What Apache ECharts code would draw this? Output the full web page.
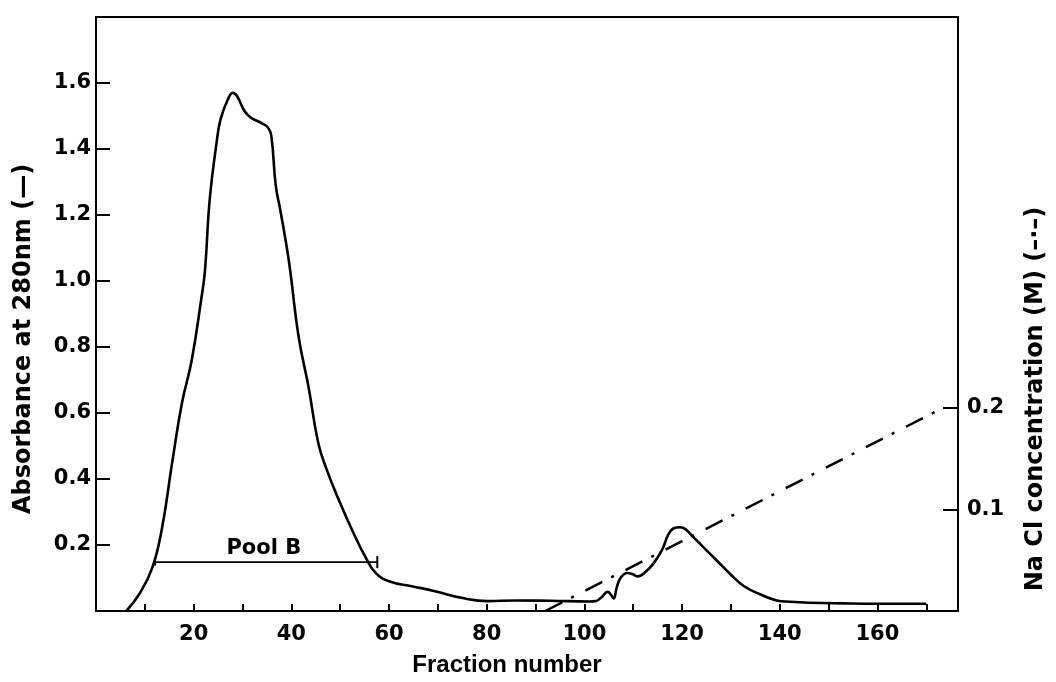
<!DOCTYPE html>
<html>
<head>
<meta charset="utf-8">
<title>Absorbance and NaCl gradient</title>
<script src="https://cdn.jsdelivr.net/npm/echarts@6/dist/echarts.min.js"></script>
<style>
  html, body { margin: 0; padding: 0; background: #fff; }
  #chart { width: 1056px; height: 682px; }
</style>
</head>
<body>
<div id="chart"></div>
<script>
// absorbance at 280nm
const absFraction = [6.2, 8.8, 11.5, 13.5, 15.6, 17.6, 19.6, 21.6, 22.3, 23.3, 24.7, 25.5, 27.0, 28.0, 28.9,
  30.4, 31.7, 33.7, 35.2, 35.9, 36.8, 37.8, 39.5, 41.5, 43.5, 45.5, 47.2, 49.9, 52.6, 55.3, 57.3,
  60.0, 64.7, 69.4, 74.8, 80.2, 86, 93, 101, 102.3, 103.4, 104.8, 105.4, 106, 106.6, 107.4, 108.8,
  109.8, 111, 112.5, 114.2, 115.9, 117.2, 118.2, 119.6, 120.7, 121.9, 124.6, 127.3, 130, 132.7,
  136.1, 139.4, 142.1, 146, 153, 160, 170];
const absValue = [0, 0.05, 0.13, 0.25, 0.45, 0.63, 0.76, 0.95, 1.03, 1.25, 1.42, 1.49, 1.55, 1.57, 1.56,
  1.515, 1.495, 1.48, 1.465, 1.44, 1.29, 1.21, 1.06, 0.83, 0.68, 0.51, 0.43, 0.33, 0.24, 0.16, 0.115,
  0.09, 0.075, 0.06, 0.04, 0.03, 0.032, 0.031, 0.029, 0.03, 0.04, 0.058, 0.05, 0.038, 0.07, 0.10, 0.115,
  0.112, 0.105, 0.118, 0.145, 0.185, 0.232, 0.25, 0.254, 0.248, 0.23, 0.19, 0.15, 0.11, 0.075,
  0.05, 0.032, 0.028, 0.025, 0.023, 0.022, 0.022];

// NaCl gradient (right axis)
const naclFraction = [92, 173.4];
const naclValue = [0, 0.2];

// pooled fractions
const poolFraction = [12.1, 57.6];
const poolLevel = 0.148;
const poolLabel = 'Pool B';

// tick labels
const xTicks = [10, 20, 30, 40, 50, 60, 70, 80, 90, 100, 110, 120, 130, 140, 150, 160, 170];
const xLabels = [20, 40, 60, 80, 100, 120, 140, 160];
const absTicks = [0.2, 0.4, 0.6, 0.8, 1.0, 1.2, 1.4, 1.6];
const naclTicks = [0.1, 0.2];

const chart = echarts.init(document.getElementById('chart'));

const tickFont = { color: '#000', fontFamily: 'DejaVu Sans', fontWeight: 'bold', fontSize: 21 };

chart.setOption({
  backgroundColor: '#fff',
  animation: false,
  grid: {
    left: 96, right: 86, top: 17, bottom: 65,
    show: true, borderColor: '#000', borderWidth: 2
  },
  xAxis: {
    type: 'value',
    min: 0,
    max: 176.5,
    name: 'Fraction number',
    nameLocation: 'middle',
    nameGap: 42,
    nameTextStyle: { color: '#000', fontFamily: 'Liberation Sans', fontWeight: 'bold', fontSize: 24, padding: [0, 40, 0, 0] },
    axisLine: { show: true, lineStyle: { color: '#000', width: 2 } },
    axisTick: { show: true, inside: true, length: 7, customValues: xTicks, lineStyle: { color: '#000', width: 2 } },
    axisLabel: Object.assign({ margin: 13, customValues: xLabels }, tickFont),
    splitLine: { show: false }
  },
  yAxis: [{
    type: 'value',
    min: 0,
    max: 1.8,
    position: 'left',
    name: 'Absorbance at 280nm (—)',
    nameLocation: 'middle',
    nameRotate: 90,
    nameGap: 60,
    nameTextStyle: { color: '#000', fontFamily: 'DejaVu Sans', fontWeight: 'bold', fontSize: 24, padding: [0, 50, 0, 0] },
    axisLine: { show: true, lineStyle: { color: '#000', width: 2 } },
    axisTick: { show: true, inside: true, length: 14, customValues: absTicks, lineStyle: { color: '#000', width: 2 } },
    axisLabel: Object.assign({ margin: 5, customValues: absTicks, formatter: v => v.toFixed(1) }, tickFont),
    splitLine: { show: false }
  }, {
    type: 'value',
    min: 0,
    max: 0.585,
    position: 'right',
    name: 'Na Cl concentration (M) (–·–)',
    nameLocation: 'middle',
    nameRotate: 90,
    nameGap: 66,
    nameTextStyle: { color: '#000', fontFamily: 'DejaVu Sans', fontWeight: 'bold', fontSize: 24, padding: [0, 170, 0, 0] },
    axisLine: { show: true, lineStyle: { color: '#000', width: 2 } },
    axisTick: { show: true, inside: true, length: 15, customValues: naclTicks, lineStyle: { color: '#000', width: 2 } },
    axisLabel: Object.assign({ margin: 9, customValues: naclTicks, formatter: v => v.toFixed(1) }, tickFont),
    splitLine: { show: false }
  }],
  series: [{
    name: 'Absorbance',
    type: 'line',
    yAxisIndex: 0,
    smooth: 0.45,
    showSymbol: false,
    symbol: 'none',
    lineStyle: { color: '#000', width: 2.6 },
    data: absFraction.map((f, i) => [f, absValue[i]])
  }, {
    name: 'NaCl',
    type: 'line',
    yAxisIndex: 1,
    symbol: 'none',
    lineStyle: { color: '#000', width: 2.5, type: [19, 10, 3, 13] },
    data: naclFraction.map((f, i) => [f, naclValue[i]])
  }, {
    name: 'Pool',
    type: 'line',
    yAxisIndex: 0,
    symbol: 'rect',
    lineStyle: { color: '#000', width: 1.6 },
    itemStyle: { color: '#000' },
    data: [
      { value: [poolFraction[0], poolLevel], symbolSize: [2, 7] },
      { value: [poolFraction[1], poolLevel], symbolSize: [2, 12] }
    ]
  }, {
    name: 'PoolLabel',
    type: 'scatter',
    yAxisIndex: 0,
    symbolSize: 0,
    itemStyle: { color: '#000', opacity: 1 },
    label: {
      show: true,
      position: [0, 0],
      align: 'center',
      verticalAlign: 'middle',
      formatter: poolLabel,
      color: '#000', fontFamily: 'DejaVu Sans', fontWeight: 'bold', fontSize: 21
    },
    data: [[(poolFraction[0] + poolFraction[1]) / 2 - 0.5, 0.19]]
  }]
});
</script>
</body>
</html>
